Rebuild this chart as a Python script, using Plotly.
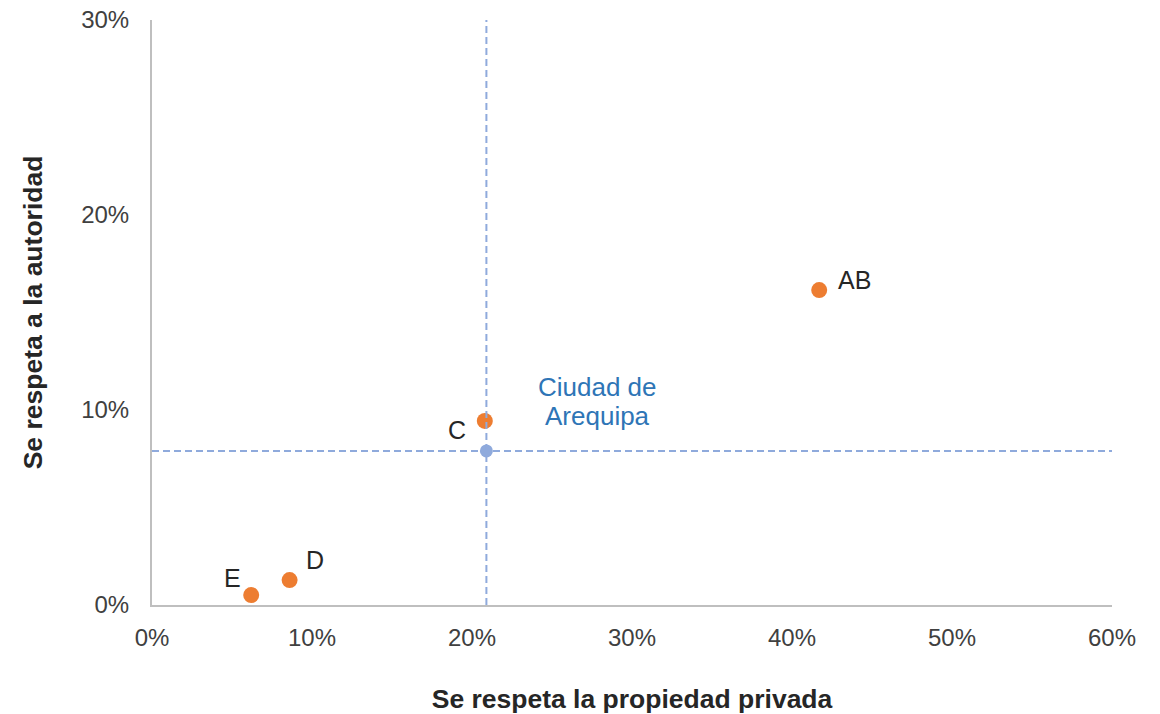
import plotly.graph_objects as go

# niveles socioeconomicos
niveles = ["AB", "C", "D", "E"]
propiedad = [0.417, 0.208, 0.086, 0.062]
autoridad = [0.1615, 0.0944, 0.0128, 0.0051]

ciudad_lineas = ["Ciudad de", "Arequipa"]
ciudad_x = 0.209
ciudad_y = 0.079

x_ticks = [0, 0.1, 0.2, 0.3, 0.4, 0.5, 0.6]
y_ticks = [0, 0.1, 0.2, 0.3]

# desplazamientos de etiquetas (px)
offsets = {"AB": (35, -10), "C": (-28, 9), "D": (25, -20), "E": (-19, -17)}

naranja = "#ED7D31"
azul_claro = "#8FAADC"
azul_texto = "#2E75B6"

fig = go.Figure()

fig.add_vline(x=ciudad_x, line=dict(color=azul_claro, width=2, dash="7px,4px"))
fig.add_hline(y=ciudad_y, line=dict(color=azul_claro, width=2, dash="7px,4px"))

fig.add_trace(go.Scatter(x=propiedad, y=autoridad, mode="markers",
                         marker=dict(color=naranja, size=16),
                         hovertext=niveles, showlegend=False))
fig.add_trace(go.Scatter(x=[ciudad_x], y=[ciudad_y], mode="markers",
                         marker=dict(color=azul_claro, size=13),
                         showlegend=False))

for n, px, py in zip(niveles, propiedad, autoridad):
    dx, dy = offsets[n]
    fig.add_annotation(x=px, y=py, text=n, showarrow=True, arrowcolor="rgba(0,0,0,0)",
                       ax=dx, ay=dy, font=dict(size=25, color="#262626"))

for linea, dy in zip(ciudad_lineas, [-64, -35]):
    fig.add_annotation(x=ciudad_x, y=ciudad_y, text=linea, showarrow=True,
                       arrowcolor="rgba(0,0,0,0)", ax=111, ay=dy,
                       font=dict(size=26, color=azul_texto))

# la pagina agrega 8px de margen al body
fig.update_layout(
    width=1160, height=714,
    paper_bgcolor="white", plot_bgcolor="white",
    margin=dict(l=144, r=56, t=12, b=117),
    font=dict(family="Liberation Sans, Arial, sans-serif", size=24, color="#404040"),
    xaxis=dict(range=[0, 0.6], tickvals=x_ticks, tickformat=".0%",
               showgrid=False, zeroline=False, showline=True,
               linecolor="#BFBFBF", linewidth=2, ticks="", automargin=False,
               ticklabelstandoff=10, ticklabeloverflow="allow",
               title=dict(text="<b>Se respeta la propiedad privada</b>",
                          font=dict(size=26.5, color="#262626"), standoff=40)),
    yaxis=dict(range=[0, 0.3], tickvals=y_ticks, tickformat=".0%",
               showgrid=False, zeroline=False, showline=True,
               linecolor="#BFBFBF", linewidth=2, ticks="", automargin=False,
               ticklabelstandoff=16, ticklabeloverflow="allow",
               title=dict(text="<b>Se respeta a la autoridad</b>",
                          font=dict(size=26.5, color="#262626"), standoff=31)),
)

fig.write_html("out.html")
